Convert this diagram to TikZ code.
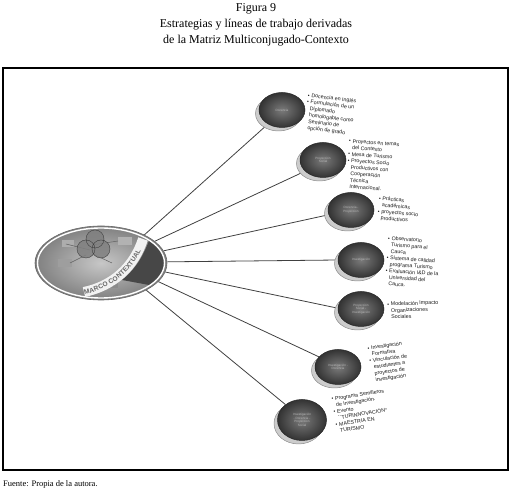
\documentclass[tikz,border=0pt]{standalone}
\usepackage{fontspec}
\setmainfont{Liberation Serif}
\newfontfamily\labelfont{Liberation Sans}
\usetikzlibrary{shapes.geometric,shadows,decorations.text,backgrounds,positioning}

\newcommand{\itm}{\makebox[3.6pt][l]{\textbullet}}
\newcommand{\ind}{\hspace*{3.6pt}}

\begin{document}
\begin{tikzpicture}[
  x=1pt, y=1pt,
  every node/.style={inner sep=0pt},
  sat/.style={ellipse, minimum width=46pt, minimum height=35pt, draw=black!85, line width=0.5pt,
    inner color=black!52, outer color=black!80,
    drop shadow={shadow xshift=-3.5pt, shadow yshift=-3.5pt, fill=black!20, draw=black!45, opacity=1},
    font=\labelfont\fontsize{3.1}{3.6}\selectfont, text=black!28, align=center},
  note/.style={anchor=north west, align=left, font=\labelfont\fontsize{5.3}{6.5}\selectfont, text=black!90},
  link/.style={draw=black!75, line width=0.8pt}
]
\useasboundingbox (0,0) rectangle (512,495);

% title, source and frame
\node[align=center, font=\fontsize{12}{16}\selectfont, anchor=north] (title) at (256,492)
  {Figura 9\\Estrategias y líneas de trabajo derivadas\\de la Matriz Multiconjugado-Contexto};
\node[anchor=base west, font=\fontsize{8.5}{10}\selectfont] (src) at (3,8) {Fuente: Propia de la autora.};
\draw[line width=1.1pt] (3,25) rectangle (508,427);

% hub
\node[ellipse, minimum width=132pt, minimum height=74pt, draw=black!60, line width=0.6pt,
  inner color=black!22, outer color=black!50] (hub) at (101,232) {};
\begin{scope}
  \clip (hub.center) ellipse (64 and 35);
  \fill[black!72] (149,254) .. controls (141,234) and (133,224) .. (122,215) -- (160,208) -- (172,245) -- cycle;
  \fill[black!45] (100,207) rectangle (118,214);
  \fill[black!60] (103,209) rectangle (114,212);
  \fill[black!38] (58,228) rectangle (72,236);
  \fill[black!32] (62,248) rectangle (74,255);
  \fill[black!30] (118,250) rectangle (132,258);
  \draw[black!62, line width=0.5pt] (92,250) -- (118,254) (90,245) -- (66,251) (95,240) -- (112,232) (86,240) -- (70,232);
  \filldraw[fill=black!50, draw=black!75, line width=0.4pt, fill opacity=0.85] (95,256) circle (9) (86,246) circle (9) (101,246) circle (9);
  \draw[black!5, line width=10pt] (84,203) .. controls (113,209) and (134,228) .. (143,256);
  \path[decorate, decoration={text along path, raise=-2.4pt,
    text={|\labelfont\bfseries\fontsize{6.6}{7}\selectfont\color{black!60}|MARCO CONTEXTUAL}}]
    (84,203) .. controls (113,209) and (134,228) .. (143,256);
\end{scope}
\draw[white, line width=1.4pt] (hub.center) ellipse (63.5 and 35);

% line nodes
\node[sat] (doc) at (282,385) {Docencia};
\node[sat] (proy) at (323,335) {Proyección\\Social};
\node[sat] (docproy) at (351,285) {Docencia -\\Proyección};
\node[sat] (inv) at (361,235) {Investigación};
\node[sat] (proyinv) at (361,186) {Proyección\\Social -\\Investigación};
\node[sat] (invdoc) at (338,128) {Investigación -\\Docencia};
\node[sat, minimum width=49pt, minimum height=41pt] (invdocproy) at (302,75)
  {Investigación\\- Docencia -\\Proyección\\Social};

% strategies
\node[note, rotate=-7] (n1) at (308,402) {\itm Docencia en Inglés\\\itm Formulación de un\\\ind Diplomado\\\ind homologable como\\\ind Seminario de\\\ind opción de grado};
\node[note, rotate=-4] (n2) at (349,356) {\itm Proyectos en temas\\\ind del Contexto\\\itm Mesa de Turismo\\\itm Proyectos Socio\\\ind Productivos con\\\ind Cooperación\\\ind Técnica\\\ind Internacional.};
\node[note, rotate=-5] (n3) at (379,299) {\itm Prácticas\\\ind académicas\\\itm proyectos socio\\\ind productivos};
\node[note, rotate=-4] (n4) at (388,259) {\itm Observatorio\\\ind Turismo para el\\\ind Cauca\\\itm Sistema de calidad\\\ind programa Turismo\\\itm Evaluación I\&D de la\\\ind Universidad del\\\ind Cauca.};
\node[note, rotate=2] (n5) at (387,193) {\itm Modelación Impacto\\\ind Organizaciones\\\ind Sociales};
\node[note, rotate=8] (n6) at (367,149) {\itm Investigación\\\ind Formativa\\\itm Vinculación de\\\ind estudiantes a\\\ind proyectos de\\\ind investigación};
\node[note, rotate=9] (n7) at (331,98) {\itm Programa Semilleros\\\ind de Investigación.\\\itm Evento\\\ind ``TURINNOVACIÓN''\\\itm MAESTRIA EN\\\ind TURISMO};

\begin{scope}[on background layer]
  \draw[link] (hub.33) -- (doc.225);
  \draw[link] (hub.22) -- (proy.212);
  \draw[link] (hub.11) -- (docproy.192);
  \draw[link] (hub.1) -- (inv.180);
  \draw[link] (hub.-8) -- (proyinv.178);
  \draw[link] (hub.-18) -- (invdoc.152);
  \draw[link] (hub.-31) -- (invdocproy.137);
\end{scope}
\end{tikzpicture}
\end{document}
